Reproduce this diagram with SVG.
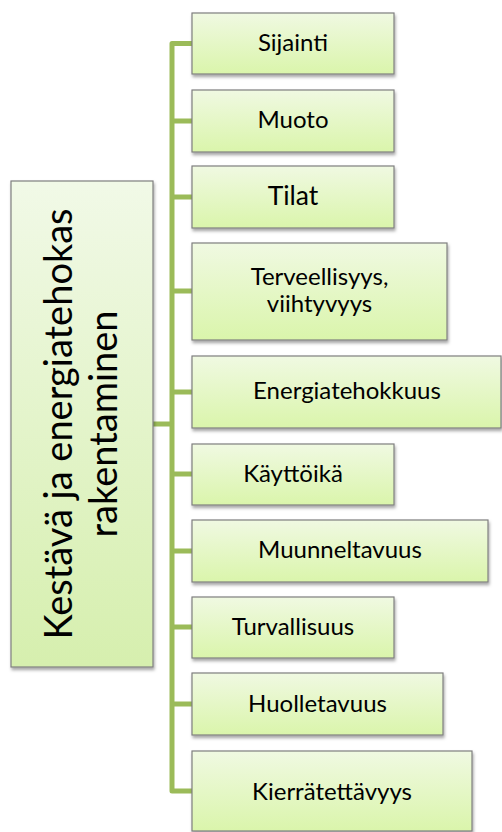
<svg xmlns="http://www.w3.org/2000/svg" width="502" height="832" viewBox="0 0 502 832">
<defs>
<linearGradient id="gLeaf" x1="0" y1="0" x2="0" y2="1">
<stop offset="0" stop-color="#f0f9e2"/>
<stop offset="1" stop-color="#daf5ab"/>
</linearGradient>
<linearGradient id="gRoot" x1="0" y1="0" x2="0" y2="1">
<stop offset="0" stop-color="#f1f9e7"/>
<stop offset="1" stop-color="#d6efae"/>
</linearGradient>
<filter id="sh" x="-10%" y="-10%" width="125%" height="130%">
<feDropShadow dx="1" dy="2.5" stdDeviation="1.6" flood-color="#000" flood-opacity="0.35"/>
</filter>
</defs>
<style>
.box{stroke:#7f7f7f;stroke-width:1.2;filter:url(#sh)}
.leaf{fill:url(#gLeaf)}
.root{fill:url(#gRoot)}
.t{font-family:Lato,"Open Sans","Liberation Sans",sans-serif;font-size:24px;fill:#000;text-anchor:middle}
.big{font-size:26.5px}
.rt{font-family:Lato,"Open Sans","Liberation Sans",sans-serif;font-size:38px;fill:#000;text-anchor:middle}
.c{fill:none;stroke:#9bbb59;stroke-width:5;stroke-linejoin:round}
</style>
<g id="connectors">
<path class="c" d="M192,43.5 H172 V791 H192"/>
<path class="c" d="M172,121 H192 M172,197 H192 M172,291 H192 M172,392 H192 M172,474 H192 M172,551 H192 M172,627 H192 M172,704 H192"/>
<path class="c" d="M153,424 H172"/>
</g>
<g id="root">
<rect class="box root" x="11" y="181" width="142" height="486"/>
<text class="rt" transform="translate(72,424) rotate(-90)" x="0" y="0">Kestävä ja energiatehokas</text>
<text class="rt" transform="translate(117,424) rotate(-90)" x="0" y="0">rakentaminen</text>
</g>
<g id="n1"><rect class="box leaf" x="192" y="13" width="202" height="61"/><text class="t" x="293" y="51">Sijainti</text></g>
<g id="n2"><rect class="box leaf" x="192" y="90" width="202" height="62"/><text class="t" x="293" y="128">Muoto</text></g>
<g id="n3"><rect class="box leaf" x="192" y="166" width="202" height="62"/><text class="t big" x="293" y="205">Tilat</text></g>
<g id="n4"><rect class="box leaf" x="192" y="243" width="255" height="97"/><text class="t" x="319.5" y="285">Terveellisyys,</text><text class="t" x="319.5" y="312">viihtyvyys</text></g>
<g id="n5"><rect class="box leaf" x="192" y="356" width="309" height="72"/><text class="t" x="347" y="399">Energiatehokkuus</text></g>
<g id="n6"><rect class="box leaf" x="192" y="444" width="202" height="61"/><text class="t" x="293" y="482">Käyttöikä</text></g>
<g id="n7"><rect class="box leaf" x="192" y="520" width="296" height="62"/><text class="t" x="340" y="558">Muunneltavuus</text></g>
<g id="n8"><rect class="box leaf" x="192" y="597" width="202" height="61"/><text class="t" x="293" y="635">Turvallisuus</text></g>
<g id="n9"><rect class="box leaf" x="192" y="673" width="251" height="62"/><text class="t" x="317.5" y="712">Huolletavuus</text></g>
<g id="n10"><rect class="box leaf" x="192" y="751" width="280" height="80"/><text class="t" x="332" y="800">Kierrätettävyys</text></g>
</svg>
